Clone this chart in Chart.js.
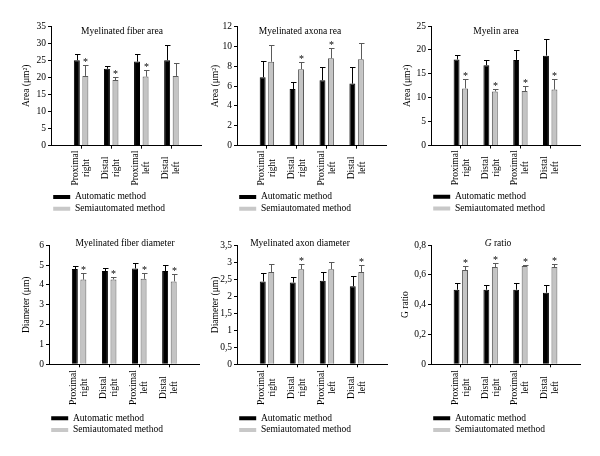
<!DOCTYPE html>
<html><head><meta charset="utf-8">
<script src="https://cdn.jsdelivr.net/npm/chart.js@4.4.1/dist/chart.umd.min.js"></script>
<style>
html,body{margin:0;padding:0;background:#fff;width:600px;height:456px;overflow:hidden;position:relative}
canvas{position:absolute}
</style></head><body>
<script>
// ---- data ----
const categories = [['Proximal','right'],['Distal','right'],['Proximal','left'],['Distal','left']];
const seriesNames = ['Automatic method','Semiautomated method'];

const fiberAreaAuto   = [25.0, 22.5, 24.6, 25.0];
const fiberAreaAutoSD = [1.7, 0.9, 2.2, 4.3];
const fiberAreaSemi   = [20.4, 19.2, 20.2, 20.4];
const fiberAreaSemiSD = [3.2, 0.8, 2.0, 3.7];
const fiberAreaSig    = [true, true, true, false];
const fiberAreaTicks  = [0, 5, 10, 15, 20, 25, 30, 35];

const axonAreaAuto   = [6.9, 5.7, 6.6, 6.25];
const axonAreaAutoSD = [1.65, 0.75, 1.3, 1.65];
const axonAreaSemi   = [8.45, 7.7, 8.8, 8.7];
const axonAreaSemiSD = [1.65, 0.75, 1.0, 1.65];
const axonAreaSig    = [false, true, true, false];
const axonAreaTicks  = [0, 2, 4, 6, 8, 10, 12];

const myelinAreaAuto   = [18.0, 16.8, 17.9, 18.8];
const myelinAreaAutoSD = [1.0, 1.0, 2.0, 3.5];
const myelinAreaSemi   = [11.95, 11.3, 11.4, 11.7];
const myelinAreaSemiSD = [1.9, 0.45, 1.1, 2.15];
const myelinAreaSig    = [true, true, true, true];
const myelinAreaTicks  = [0, 5, 10, 15, 20, 25];

const fiberDiamAuto   = [4.8, 4.7, 4.83, 4.7];
const fiberDiamAutoSD = [0.18, 0.17, 0.27, 0.33];
const fiberDiamSemi   = [4.27, 4.28, 4.31, 4.18];
const fiberDiamSemiSD = [0.33, 0.13, 0.27, 0.35];
const fiberDiamSig    = [true, true, true, true];
const fiberDiamTicks  = [0, 1, 2, 3, 4, 5, 6];

const axonDiamAuto   = [2.44, 2.41, 2.46, 2.30];
const axonDiamAutoSD = [0.26, 0.17, 0.25, 0.30];
const axonDiamSemi   = [2.72, 2.80, 2.80, 2.72];
const axonDiamSemiSD = [0.24, 0.16, 0.21, 0.21];
const axonDiamSig    = [false, true, false, true];
const axonDiamTicks  = [0, 0.5, 1, 1.5, 2, 2.5, 3, 3.5];

const gRatioAuto   = [0.50, 0.50, 0.50, 0.48];
const gRatioAutoSD = [0.045, 0.03, 0.043, 0.05];
const gRatioSemi   = [0.632, 0.652, 0.659, 0.652];
const gRatioSemiSD = [0.029, 0.028, 0.01, 0.02];
const gRatioSig    = [true, true, true, true];
const gRatioTicks  = [0, 0.2, 0.4, 0.6, 0.8];

// ---- layout / style ----
const FONT = "'Liberation Serif','DejaVu Serif','Times New Roman',serif";
const FS = 9.5;
const BLACK = '#000000', GRAY = '#c4c4c4', GRAYLINE = '#5a5a5a';
const LEGEND_H = 2 * (FS + 2.2) + 10;

const panels = [
  {title:'Myelinated fiber area', yTitle:'Area (\u03bcm\u00b2)', auto:fiberAreaAuto, autoSD:fiberAreaAutoSD, semi:fiberAreaSemi, semiSD:fiberAreaSemiSD, sig:fiberAreaSig, ticks:fiberAreaTicks,
   px:0, py:0, axisX:51, right:201.5, top:26, bottom:145.7, xH:44.3, labelC:22.3, yTitleX:26.7, titleX:122, titleY:31},
  {title:'Myelinated axona rea', yTitle:'Area (\u03bcm\u00b2)', auto:axonAreaAuto, autoSD:axonAreaAutoSD, semi:axonAreaSemi, semiSD:axonAreaSemiSD, sig:axonAreaSig, ticks:axonAreaTicks,
   px:200, py:0, axisX:237, right:386.5, top:26.5, bottom:145.7, xH:44.3, labelC:22.3, yTitleX:215, titleX:300, titleY:31},
  {title:'Myelin area', yTitle:'Area (\u03bcm\u00b2)', auto:myelinAreaAuto, autoSD:myelinAreaAutoSD, semi:myelinAreaSemi, semiSD:myelinAreaSemiSD, sig:myelinAreaSig, ticks:myelinAreaTicks,
   px:400, py:0, axisX:431, right:580, top:26, bottom:145.5, xH:44.3, labelC:22.3, yTitleX:407, titleX:496, titleY:31},
  {title:'Myelinated fiber diameter', yTitle:'Diameter (\u03bcm)', auto:fiberDiamAuto, autoSD:fiberDiamAutoSD, semi:fiberDiamSemi, semiSD:fiberDiamSemiSD, sig:fiberDiamSig, ticks:fiberDiamTicks,
   px:0, py:228, axisX:49, right:199.5, top:245.3, bottom:364.3, xH:47, labelC:23.3, yTitleX:26, titleX:125, titleY:243},
  {title:'Myelinated axon diameter', yTitle:'Diameter (\u03bcm)', auto:axonDiamAuto, autoSD:axonDiamAutoSD, semi:axonDiamSemi, semiSD:axonDiamSemiSD, sig:axonDiamSig, ticks:axonDiamTicks,
   px:200, py:228, axisX:237, right:387, top:245.5, bottom:364.3, xH:47, labelC:23.3, yTitleX:215, titleX:300, titleY:243},
  {title:'G ratio', italicFirst:true, yTitle:'G ratio', auto:gRatioAuto, autoSD:gRatioAutoSD, semi:gRatioSemi, semiSD:gRatioSemiSD, sig:gRatioSig, ticks:gRatioTicks,
   px:400, py:228, axisX:431, right:580, top:245, bottom:364.3, xH:47, labelC:23.3, yTitleX:404, titleX:498, titleY:243}
];

const annot = {
  id: 'annot',
  afterDatasetsDraw(chart, args, o) {
    const ctx = chart.ctx, ys = chart.scales.y;
    ctx.save();
    chart.data.datasets.forEach((ds, di) => {
      const meta = chart.getDatasetMeta(di);
      meta.data.forEach((bar, i) => {
        const v = ds.data[i];
        if (v == null) return;
        const x = Math.round(bar.x) + 0.5;
        const y0 = ys.getPixelForValue(v);
        const y1 = Math.round(ys.getPixelForValue(v + ds.sd[i])) + 0.5;
        ctx.strokeStyle = ds.errColor; ctx.lineWidth = 1;
        ctx.beginPath(); ctx.moveTo(x, y0); ctx.lineTo(x, y1);
        ctx.moveTo(x - 2.5, y1); ctx.lineTo(x + 3, y1); ctx.stroke();
        if (ds.sig && ds.sig[i]) {
          ctx.fillStyle = '#000'; ctx.font = '10px ' + FONT;
          ctx.textAlign = 'center'; ctx.textBaseline = 'alphabetic';
          ctx.fillText('*', x, y1 - 1);
        }
      });
    });
    ctx.restore();
  },
  afterDraw(chart, args, o) {
    const ctx = chart.ctx, xs = chart.scales.x;
    ctx.save();
    ctx.fillStyle = '#000';
    // category labels (rotated, lines centred)
    ctx.font = FS + 'px ' + FONT;
    ctx.textAlign = 'center'; ctx.textBaseline = 'middle';
    const lh = FS * 1.15;
    chart.data.labels.forEach((lab, i) => {
      if (!lab || !lab.length) return;
      const x = xs.getPixelForValue(i);
      ctx.save();
      ctx.translate(x, xs.top + o.labelC);
      ctx.rotate(-Math.PI / 2);
      lab.forEach((line, j) => ctx.fillText(line, 0, (j - (lab.length - 1) / 2) * lh));
      ctx.restore();
    });
    // panel title
    ctx.textBaseline = 'middle';
    if (o.italicFirst) {
      const first = o.title.charAt(0), rest = o.title.slice(1);
      ctx.font = 'italic ' + FS + 'px ' + FONT; const w1 = ctx.measureText(first).width;
      ctx.font = FS + 'px ' + FONT; const w2 = ctx.measureText(rest).width;
      const sx = o.titleX - (w1 + w2) / 2;
      ctx.textAlign = 'left';
      ctx.font = 'italic ' + FS + 'px ' + FONT; ctx.fillText(first, sx, o.titleY);
      ctx.font = FS + 'px ' + FONT; ctx.fillText(rest, sx + w1, o.titleY);
    } else {
      ctx.font = FS + 'px ' + FONT; ctx.textAlign = 'center';
      ctx.fillText(o.title, o.titleX, o.titleY);
    }
    ctx.restore();
  }
};

panels.forEach((p) => {
  const W = Math.ceil(p.right - p.px) + 1, H = 228;
  const cv = document.createElement('canvas');
  cv.width = W; cv.height = H;
  cv.style.left = p.px + 'px'; cv.style.top = p.py + 'px';
  cv.style.width = W + 'px'; cv.style.height = H + 'px';
  document.body.appendChild(cv);
  const labels = [''].concat(categories, ['']);
  const pad = a => [null].concat(a, [null]);
  const n = labels.length;
  const yW = p.axisX - p.px;
  const padTop = p.top - p.py;
  const padBottom = H - (p.bottom - p.py) - p.xH - LEGEND_H;
  const yTitlePad = Math.max(0, (p.yTitleX - p.px) - FS * 1.2 / 2);
  new Chart(cv, {
    type: 'bar',
    data: {
      labels: labels,
      datasets: [
        {label: seriesNames[0], data: pad(p.auto), sd: pad(p.autoSD), sig: null,
         backgroundColor: BLACK, borderColor: BLACK, borderWidth: 1, errColor: BLACK, legendColor: BLACK},
        {label: seriesNames[1], data: pad(p.semi), sd: pad(p.semiSD), sig: pad(p.sig),
         backgroundColor: GRAY, borderColor: GRAYLINE, borderWidth: 1, errColor: GRAYLINE, legendColor: '#c8c8c8'}
      ]
    },
    options: {
      responsive: false, animation: false, devicePixelRatio: 1,
      categoryPercentage: 0.567, barPercentage: 0.7,
      layout: {padding: {left: 0, right: W - (p.right - p.px), top: padTop, bottom: padBottom}},
      scales: {
        x: {
          offset: false,
          grid: {offset: false, drawOnChartArea: false, drawTicks: true, tickLength: 3, lineWidth: 1,
                 color: c => (c.index === 0 || c.index === n - 1) ? 'rgba(0,0,0,0)' : '#000'},
          border: {display: true, color: '#000', width: 1},
          ticks: {display: false, autoSkip: false},
          afterFit: s => { s.height = p.xH; s.paddingLeft = 0; s.paddingRight = 0; }
        },
        y: {
          min: 0, max: p.ticks[p.ticks.length - 1],
          afterBuildTicks: s => { s.ticks = p.ticks.map(v => ({value: v})); },
          grid: {drawOnChartArea: false, drawTicks: true, tickLength: 3, color: '#000'},
          border: {display: true, color: '#000', width: 1},
          ticks: {padding: 2, color: '#000', font: {family: FONT, size: FS},
                  callback: v => String(v).replace('.', ',')},
          title: {display: true, text: p.yTitle, color: '#000', font: {family: FONT, size: FS, lineHeight: 1.2},
                  padding: {top: yTitlePad, bottom: 0}},
          afterFit: s => { s.width = yW; s.paddingTop = 0; s.paddingBottom = 0; }
        }
      },
      plugins: {
        legend: {
          position: 'bottom', align: 'start', fullSize: false,
          labels: {boxWidth: 17, boxHeight: 4, padding: 2.2, color: '#000', font: {family: FONT, size: FS},
            generateLabels: chart => chart.data.datasets.map((ds, i) => ({
              text: ds.label, fillStyle: ds.legendColor, strokeStyle: ds.legendColor, lineWidth: 0,
              hidden: false, datasetIndex: i, fontColor: '#000'}))}
        },
        tooltip: {enabled: false},
        annot: {title: p.title, titleX: p.titleX - p.px, titleY: p.titleY - p.py, italicFirst: !!p.italicFirst, labelC: p.labelC}
      }
    },
    plugins: [annot]
  });
});
</script>
</body></html>
